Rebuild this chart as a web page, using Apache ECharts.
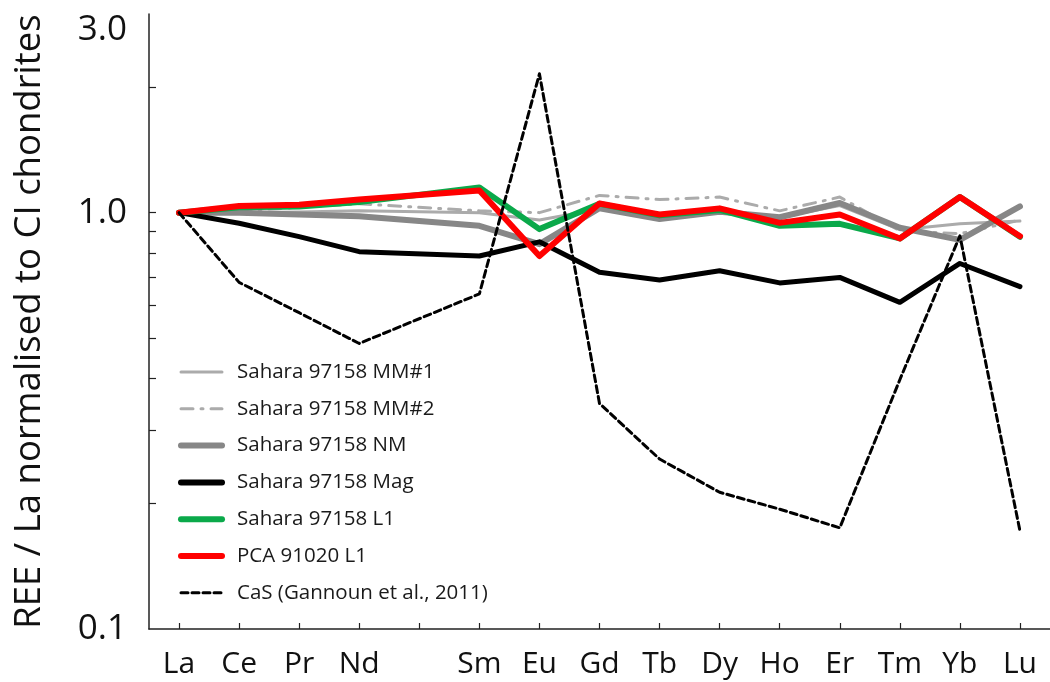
<!DOCTYPE html>
<html>
<head>
<meta charset="utf-8">
<script src="https://cdn.jsdelivr.net/npm/echarts@6/dist/echarts.min.js"></script>
<style>
html,body{margin:0;padding:0;background:#fff;}
#chart{width:1050px;height:682px;}
</style>
</head>
<body>
<div id="chart"></div>
<script>
// Categories (Pm position kept empty)
const elements = ['La','Ce','Pr','Nd','Pm','Sm','Eu','Gd','Tb','Dy','Ho','Er','Tm','Yb','Lu'];
const elementLabels = ['La','Ce','Pr','Nd','','Sm','Eu','Gd','Tb','Dy','Ho','Er','Tm','Yb','Lu'];

// Series values (REE / La normalised to CI chondrites)
const mm1 = [1.0, 1.0, 1.003, 1.01, null, 1.0, 0.96, 1.02, 0.97, 1.0, 0.975, 1.04, 0.91, 0.94, 0.955];
const mm2 = [1.0, 1.01, 1.03, 1.05, null, 1.01, 1.0, 1.10, 1.075, 1.09, 1.01, 1.09, 0.905, 0.89, 0.96];
const nm  = [1.0, 1.0, 0.99, 0.98, null, 0.93, 0.84, 1.025, 0.965, 1.005, 0.975, 1.055, 0.92, 0.86, 1.035];
const mag = [1.0, 0.943, 0.876, 0.806, null, 0.787, 0.851, 0.719, 0.689, 0.725, 0.678, 0.699, 0.609, 0.755, 0.664];
const l1  = [1.0, 1.03, 1.035, 1.06, null, 1.15, 0.913, 1.05, 0.985, 1.015, 0.93, 0.94, 0.867, 1.09, 0.875];
const pca = [1.0, 1.037, 1.045, 1.075, null, 1.13, 0.787, 1.052, 0.99, 1.024, 0.945, 0.99, 0.867, 1.09, 0.878];
const cas = [1.0, 0.68, 0.575, 0.485, null, 0.638, 2.155, 0.348, 0.256, 0.213, 0.194, 0.175, 0.397, 0.88, 0.172];

// Axis ticks / labels
const yLabelValues = [0.1, 1, 3];
const yTickValues = [0.2, 0.3, 0.4, 0.5, 0.6, 0.7, 0.8, 0.9, 1, 2];

const names = ['Sahara 97158 MM#1','Sahara 97158 MM#2','Sahara 97158 NM','Sahara 97158 Mag','Sahara 97158 L1','PCA 91020 L1','CaS (Gannoun et al., 2011)'];

const FONT = '"Open Sans", "Noto Sans", sans-serif';

const styles = [
  {color:'#ababab', width:3, type:'solid', legendWidth:3},
  {color:'#ababab', width:3, type:[12,8,2,8], legendWidth:3},
  {color:'#878787', width:6, type:'solid', legendWidth:6},
  {color:'#000000', width:5, type:'solid', legendWidth:6},
  {color:'#0aa94a', width:6, type:'solid', legendWidth:6},
  {color:'#ff0000', width:6, type:'solid', legendWidth:6},
  {color:'#000000', width:3, type:[7,4], legendWidth:3}
];
const dataSets = [mm1, mm2, nm, mag, l1, pca, cas];

const series = dataSets.map((d, i) => ({
  name: names[i],
  type: 'line',
  data: d,
  symbol: 'none',
  connectNulls: true,
  z: 2 + i,
  lineStyle: {color: styles[i].color, width: styles[i].width, type: styles[i].type, cap: 'round', join: 'round'},
  itemStyle: {color: styles[i].color},
  emphasis: {disabled: true}
}));

const chart = echarts.init(document.getElementById('chart'), null, {renderer: 'canvas'});
chart.setOption({
  animation: false,
  backgroundColor: '#fff',
  grid: {left: 149, top: 14, width: 910, height: 615, containLabel: false},
  legend: {
    orient: 'vertical',
    left: 173,
    top: 356,
    padding: 5,
    itemWidth: 41,
    itemHeight: 14,
    itemGap: 14.8,
    selectedMode: false,
    textStyle: {fontFamily: FONT, fontSize: 20.5, color: '#1a1a1a', lineHeight: 22, padding: [0,0,0,10]},
    data: names.map((n, i) => ({
      name: n,
      itemStyle: {color: 'rgba(0,0,0,0)', borderColor: 'rgba(0,0,0,0)', borderWidth: 0},
      lineStyle: {width: styles[i].legendWidth, type: styles[i].type, color: styles[i].color, cap: 'round'}
    }))
  },
  xAxis: {
    type: 'category',
    data: elements,
    boundaryGap: true,
    axisLine: {lineStyle: {color: '#222', width: 1.5}},
    axisTick: {show: true, inside: true, length: 6, alignWithLabel: true, interval: 0, lineStyle: {color: '#222', width: 1.2}},
    axisLabel: {
      interval: 0,
      margin: 20,
      fontFamily: '"Liberation Sans Narrow", "Open Sans", sans-serif',
      fontSize: 30,
      color: '#111',
      formatter: (v, idx) => elementLabels[idx]
    },
    splitLine: {show: false}
  },
  yAxis: {
    type: 'log',
    logBase: 10,
    min: 0.1,
    max: 3,
    name: 'REE / La normalised to CI chondrites',
    nameLocation: 'middle',
    nameRotate: 90,
    nameGap: 101,
    nameTextStyle: {fontFamily: FONT, fontSize: 36.5, color: '#111'},
    axisLine: {show: true, lineStyle: {color: '#222', width: 1.5}},
    axisTick: {show: true, inside: true, length: 7, customValues: yTickValues, lineStyle: {color: '#222', width: 1.2}},
    minorTick: {show: false},
    axisLabel: {
      customValues: yLabelValues,
      margin: 22,
      fontFamily: FONT,
      fontSize: 35,
      color: '#111',
      formatter: (v) => (v > 2.5 ? '{t|' + Number(v).toFixed(1) + '}' : Number(v).toFixed(1)),
      rich: {t: {fontFamily: FONT, fontSize: 35, color: '#111', padding: [32, 0, 0, 0]}}
    },
    splitLine: {show: false}
  },
  series: series
});
</script>
</body>
</html>
